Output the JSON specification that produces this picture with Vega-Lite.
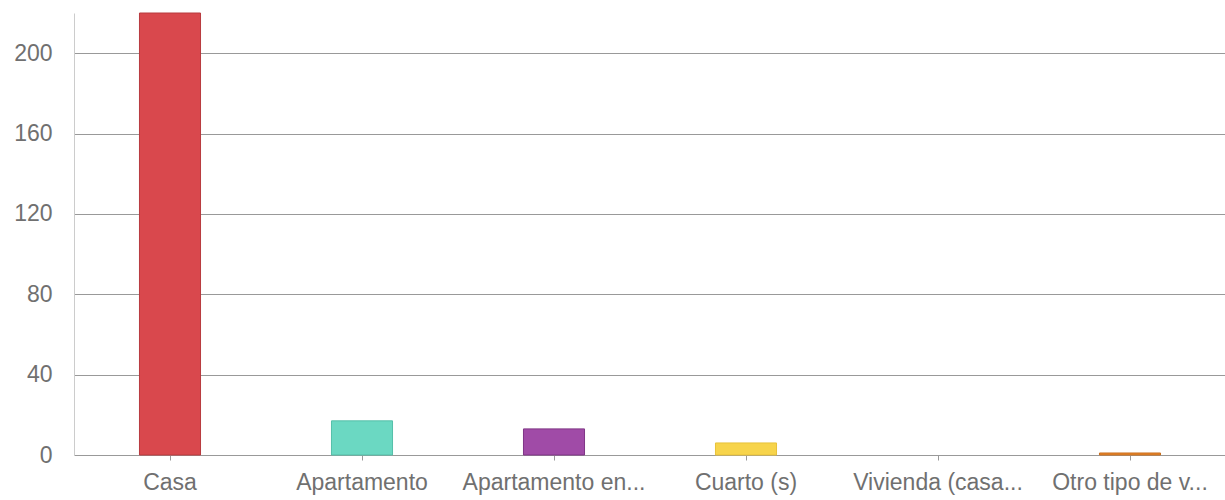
{
  "$schema": "https://vega.github.io/schema/vega-lite/v6.json",
  "width": 1152,
  "height": 442,
  "autosize": {"type": "none"},
  "padding": {"left": 74, "top": 13, "right": 0, "bottom": 45},
  "background": "white",
  "config": {"view": {"stroke": null}, "font": "Liberation Sans"},
  "data": {"values": [
    {"tipo": "Casa", "n": 220, "c": "#d9484d", "s": "#b83a3e"},
    {"tipo": "Apartamento", "n": 17, "c": "#6bd8c2", "s": "#55bfa9"},
    {"tipo": "Apartamento en...", "n": 13, "c": "#a04ba7", "s": "#7f3586"},
    {"tipo": "Cuarto (s)", "n": 6, "c": "#f7d44b", "s": "#e8c23a"},
    {"tipo": "Vivienda (casa...", "n": 0, "c": "#4a90d9", "s": "transparent"},
    {"tipo": "Otro tipo de v...", "n": 1, "c": "#e8852a", "s": "#c96e1c"}
  ]},
  "mark": {"type": "bar", "strokeWidth": 1},
  "encoding": {
    "x": {
      "field": "tipo", "type": "nominal", "sort": null,
      "scale": {"paddingInner": 0.682, "paddingOuter": 0.341},
      "axis": {"title": null, "labelAngle": 0, "labelFontSize": 23, "labelColor": "#707070",
               "labelPadding": 11, "tickSize": 5, "tickColor": "#999999", "domain": false,
               "grid": false, "labelFont": "Liberation Sans", "labelLimit": 0}
    },
    "y": {
      "field": "n", "type": "quantitative",
      "scale": {"domain": [0, 220], "nice": false},
      "axis": {"title": null, "values": [0, 40, 80, 120, 160, 200], "labelFontSize": 23,
               "labelColor": "#707070", "labelPadding": 22, "tickSize": 0, "domainColor": "#cccccc",
               "gridColor": "#999999", "gridWidth": 1, "labelFont": "Liberation Sans"}
    },
    "color": {"field": "c", "type": "nominal", "scale": null},
    "stroke": {"field": "s", "type": "nominal", "scale": null}
  }
}
